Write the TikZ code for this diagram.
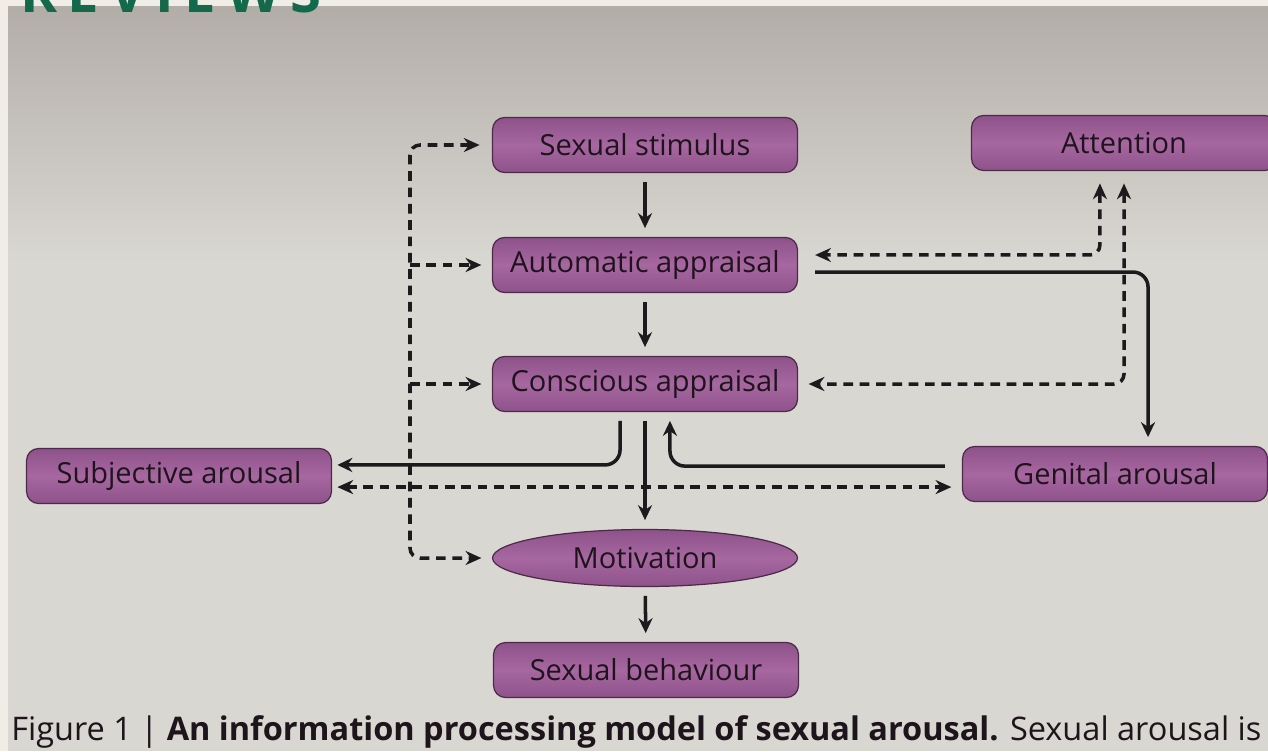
\documentclass[tikz,border=0pt]{standalone}
\usepackage{fontspec}
\setmainfont{Open Sans}
\usetikzlibrary{arrows.meta}
\usetikzlibrary{shapes.geometric}

\definecolor{framebg}{HTML}{EFEDE5}
\definecolor{screenbg}{HTML}{D9D7D1}
\definecolor{screentop}{HTML}{B3ADA8}
\definecolor{revgreen}{HTML}{13694B}
\definecolor{boxfill}{HTML}{A767A1}
\definecolor{boxedge}{HTML}{8E528A}
\definecolor{boxline}{HTML}{4E2A4A}
\definecolor{boxtext}{HTML}{1E141B}
\definecolor{arrowcol}{HTML}{1C1A1C}

\begin{document}
\begin{tikzpicture}[x=0.02cm, y=-0.02cm,
  box/.style={draw=boxline, line width=0.7pt, rounded corners=0.24cm, top color=boxedge, bottom color=boxedge, middle color=boxfill, minimum width=6.1cm, minimum height=1.1cm, text=boxtext, font=\fontsize{16.5}{19}\selectfont},
  oval/.style={box, shape=ellipse, rounded corners=0pt, minimum height=1.14cm},
  flow/.style={draw=arrowcol, line width=2pt, -{Stealth[length=8.5pt, width=8pt]}, shorten >=5pt, shorten <=5pt},
  dflow/.style={draw=arrowcol, line width=2pt, dash pattern=on 5.5pt off 3.8pt, -{Stealth[length=9pt, width=8pt]}, shorten >=6pt},
  dboth/.style={dflow, {Stealth[length=9pt, width=8pt]}-{Stealth[length=9pt, width=8pt]}, shorten <=6pt}]
\useasboundingbox (0,0) rectangle (1268,751);
\clip (0,0) rectangle (1268,751);
% screen photo background
\fill[framebg] (0,0) rectangle (1268,751);
\fill[screenbg] (8,6) rectangle (1268,751);
\shade[top color=screentop, bottom color=screenbg] (8,6) rectangle (1268,260);
\node[anchor=base west, inner sep=0, text=revgreen, font=\fontsize{32}{32}\selectfont\bfseries\addfontfeature{LetterSpace=18}] (rev) at (20,12) {REVIEWS};

% boxes
\node[box] (stim) at (645,145) {Sexual stimulus};
\node[box] (auto) at (645,265) {Automatic appraisal};
\node[box] (conc) at (645,384) {Conscious appraisal};
\node[box] (attn) at (1124,143) {Attention};
\node[box] (subj) at (179,476) {Subjective arousal};
\node[box] (gen) at (1115,474) {Genital arousal};
\node[oval] (motiv) at (645,558) {Motivation};
\node[box] (behav) at (646,670) {Sexual behaviour};
\coordinate (busB) at (410,558);

% main chain
\draw[flow] (stim) -- (auto);
\draw[flow] (auto) -- (conc);
\draw[flow] (conc) -- (motiv);
\draw[flow] (motiv) -- (behav);
\draw[flow, rounded corners=0.3cm, shorten <=9.7pt] ([yshift=-4pt]auto.east) -| ([xshift=18.8pt]gen.north);
\draw[flow, rounded corners=0.3cm, shorten >=3pt] ([xshift=-14.2pt]conc.south) |- ([yshift=6.3pt]subj.east);
\draw[flow, rounded corners=0.3cm, shorten <=9.7pt] ([yshift=4.5pt]gen.west) -| ([xshift=14.2pt]conc.south);

% dashed links
\draw[dboth, rounded corners=0.2cm, shorten <=7pt] (stim.west) -| (busB) -- (motiv.west);
\draw[dflow] (busB |- auto.west) -- (auto.west);
\draw[dflow] (busB |- conc.west) -- (conc.west);
\draw[dboth, rounded corners=0.2cm, shorten <=7pt, shorten >=9.7pt] ([xshift=-13.7pt]attn.south) |- ([yshift=5.7pt]auto.east);
\draw[dboth, rounded corners=0.2cm, shorten <=7pt] (attn.south) |- (conc.east);
\draw[dboth, shorten <=3pt] ([yshift=-6.3pt]subj.east) -- ([yshift=-6.3pt]subj.east -| gen.west);

\node[anchor=base west, inner sep=0, text=boxtext, font=\fontsize{18.5}{21}\selectfont] (cap) at (11,740) {Figure 1 | \textbf{An information processing model of sexual arousal.} Sexual arousal is};
\end{tikzpicture}
\end{document}
